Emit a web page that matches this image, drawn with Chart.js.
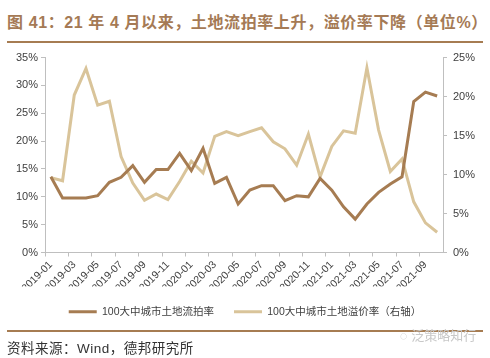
<!DOCTYPE html>
<html>
<head>
<meta charset="utf-8">
<script src="https://cdn.jsdelivr.net/npm/chart.js@4"></script>
<style>
  body { margin: 0; width: 490px; height: 358px; background: #fff; position: relative; overflow: hidden; font-family: 'Liberation Sans', 'Noto Sans CJK SC', sans-serif; }
  #title { position: absolute; left: 7px; top: 9px; font-size: 16px; font-weight: bold; color: #A57A55; white-space: nowrap; letter-spacing: 0.6px; }
  .rule { position: absolute; left: 7px; width: 476px; height: 2px; background: #A67C52; }
  #chart-box { position: absolute; left: 0; top: 45px; width: 490px; height: 282px; }
  #source { position: absolute; left: 7px; top: 337px; font-size: 13.5px; color: #333; white-space: nowrap; letter-spacing: 0.5px; }
  #mark { position: absolute; left: 400px; top: 325px; font-size: 13px; color: #c8c8c8; white-space: nowrap; }
</style>
</head>
<body>
<div id="title">图 41：21 年 4 月以来，土地流拍率上升，溢价率下降（单位%）</div>
<div class="rule" style="top: 41px;"></div>
<div id="chart-box"><canvas id="myChart"></canvas></div>
<div class="rule" style="top: 330px;"></div>
<div id="mark">◌ 泛策略知行</div>
<div id="source">资料来源：Wind，德邦研究所</div>

<script>
'use strict';

// ******* DATA *******
let months = [
  '2019-01', '2019-02', '2019-03', '2019-04', '2019-05', '2019-06', '2019-07', '2019-08', '2019-09', '2019-10', '2019-11', '2019-12',
  '2020-01', '2020-02', '2020-03', '2020-04', '2020-05', '2020-06', '2020-07', '2020-08', '2020-09', '2020-10', '2020-11', '2020-12',
  '2021-01', '2021-02', '2021-03', '2021-04', '2021-05', '2021-06', '2021-07', '2021-08', '2021-09', '2021-10'
];

// 流拍率, left axis
let failRate = [
  13.6, 9.8, 9.8, 9.8, 10.2, 12.6, 13.5, 15.6, 12.6, 14.9, 14.9, 17.8,
  14.7, 18.7, 12.4, 13.5, 8.7, 11.2, 12.0, 12.0, 9.3, 10.2, 10.0, 13.3,
  11.2, 8.2, 6.0, 8.7, 10.8, 12.3, 13.6, 27.1, 28.8, 28.1
];

// 溢价率, right axis
let premiumRate = [
  9.6, 9.2, 20.2, 23.6, 18.9, 19.4, 12.3, 8.9, 6.7, 7.5, 6.8, 9.1,
  11.7, 10.2, 14.9, 15.5, 15.0, 15.5, 16.0, 14.2, 13.3, 11.2, 15.2, 9.7,
  13.6, 15.6, 15.3, 23.7, 15.7, 10.4, 12.0, 6.5, 3.8, 2.6
];

let seriesNames = ['100大中城市土地流拍率', '100大中城市土地溢价率（右轴）'];

// ******* STYLE *******
const brown = '#A67C52';
const beige = '#D9C49A';
const axisGray = '#BFBFBF';
const textColor = '#404040';
const fontFamily = "'Liberation Sans', 'Noto Sans CJK SC', sans-serif";

// ***** CHART *****
function renderChart() {
  const data = {
    labels: months,
    datasets: [{
      label: seriesNames[0],
      data: failRate,
      borderColor: brown,
      backgroundColor: brown,
      borderWidth: 3,
      pointRadius: 0,
      tension: 0,
      yAxisID: 'y'
    },
    {
      label: seriesNames[1],
      data: premiumRate,
      borderColor: beige,
      backgroundColor: beige,
      borderWidth: 3,
      pointRadius: 0,
      tension: 0,
      yAxisID: 'y1'
    }]
  };

  const config = {
    type: 'line',
    data: data,
    options: {
      responsive: false,
      animation: false,
      layout: {
        padding: { top: 11, bottom: 0, left: 0, right: 0 }
      },
      plugins: {
        legend: {
          position: 'bottom',
          labels: {
            usePointStyle: true,
            pointStyle: 'line',
            pointStyleWidth: 28,
            boxHeight: 10,
            padding: 20,
            color: textColor,
            font: { family: fontFamily, size: 10.5 }
          }
        },
        tooltip: { enabled: false }
      },
      scales: {
        x: {
          offset: true,
          afterFit: function (scale) { scale.height = 34; },
          grid: {
            offset: true,
            drawOnChartArea: false,
            tickLength: 4,
            color: function (ctx) { return ctx.index % 2 === 0 ? axisGray : 'rgba(0,0,0,0)'; }
          },
          border: { color: axisGray },
          ticks: {
            autoSkip: false,
            minRotation: 45,
            maxRotation: 45,
            padding: 2,
            color: textColor,
            font: { family: fontFamily, size: 10.5 },
            callback: function (value, index) { return index % 2 === 0 ? months[index] : ''; }
          }
        },
        y: {
          position: 'left',
          min: 0,
          max: 35,
          afterFit: function (scale) { scale.width = 45; },
          grid: { drawOnChartArea: false, tickLength: 4, color: axisGray },
          border: { color: axisGray },
          ticks: {
            stepSize: 5,
            padding: 3,
            color: textColor,
            font: { family: fontFamily, size: 11 },
            callback: function (v) { return v + '%'; }
          }
        },
        y1: {
          position: 'right',
          min: 0,
          max: 25,
          afterFit: function (scale) { scale.width = 47; },
          grid: { drawOnChartArea: false, tickLength: 4, color: axisGray },
          border: { color: axisGray },
          ticks: {
            stepSize: 5,
            padding: 6,
            color: textColor,
            font: { family: fontFamily, size: 11 },
            callback: function (v) { return v + '%'; }
          }
        }
      }
    }
  };

  let canvasChart = document.getElementById('myChart');
  canvasChart.width = 490;
  canvasChart.height = 282;
  const myChart = new Chart(canvasChart, config);
}

renderChart();
</script>
</body>
</html>
